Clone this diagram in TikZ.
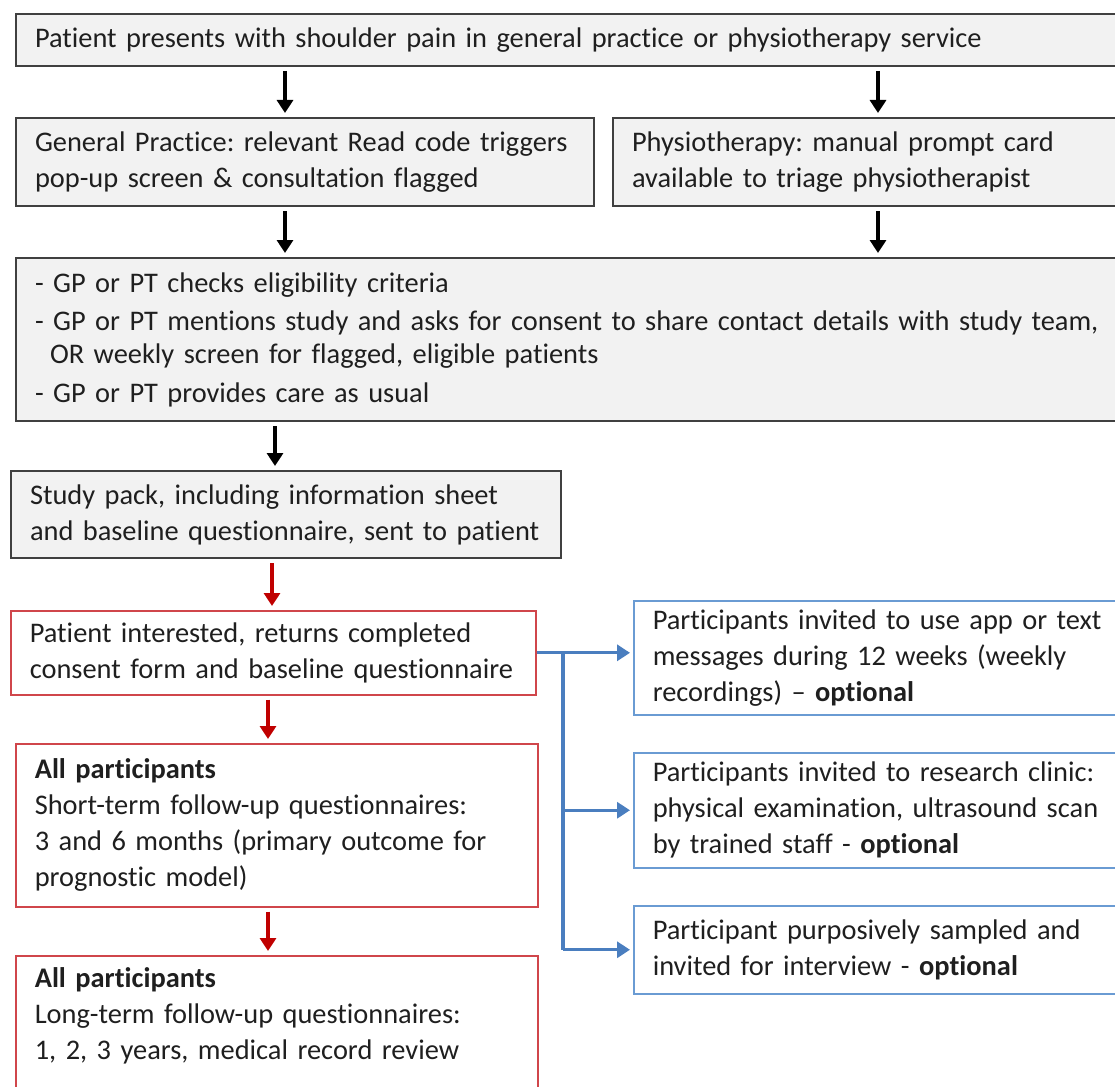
\documentclass[tikz,border=0pt]{standalone}
\usepackage{fontspec}
\setmainfont{Carlito}[Ligatures=NoCommon]
\usetikzlibrary{arrows.meta,calc}
\frenchspacing
\definecolor{boxgray}{HTML}{F2F2F2}
\definecolor{edgegray}{HTML}{404040}
\definecolor{txtgray}{HTML}{1F1F1F}
\definecolor{boxred}{HTML}{D0464B}
\definecolor{arrred}{HTML}{C00000}
\definecolor{boxblue}{HTML}{6A9BD3}
\definecolor{arrblue}{HTML}{4A7EBF}
\tikzset{
  flowbox/.style={anchor=north west, align=left, inner xsep=19pt, inner ysep=0pt,
    font=\fontsize{28.4}{36}\selectfont, text=txtgray},
  greybox/.style={flowbox, draw=edgegray, fill=boxgray, line width=2pt},
  redbox/.style={flowbox, draw=boxred, fill=white, line width=1.6pt},
  bluebox/.style={flowbox, draw=boxblue, fill=white, line width=1.5pt},
  blackarr/.style={line width=3.2pt, -{Triangle[width=16pt,length=13pt]}, shorten <=4pt, shorten >=4pt},
  redarr/.style={blackarr, arrred},
  bluearr/.style={line width=3.2pt, arrblue, -{Triangle[width=16pt,length=13pt]}, shorten >=3pt}
}
\begin{document}
\begin{tikzpicture}[x=1pt, y=-1pt]
	\useasboundingbox (0,0) rectangle (1115,1086);
	\clip (0,0) rectangle (1115,1086);
	% grey boxes
	\node[greybox, text width=1067pt, minimum height=52pt] (present) at (15,13)
		{Patient presents with shoulder pain in general practice or physiotherapy service};
	\node[greybox, text width=540pt, minimum height=88pt] (gp) at (15,117)
		{General Practice: relevant Read code triggers\\pop-up screen \& consultation flagged};
	\node[greybox, text width=470pt, minimum height=88pt] (pt) at (612,117)
		{Physiotherapy: manual prompt card\\available to triage physiotherapist};
	\node[greybox, text width=1067pt, minimum height=163pt] (checks) at (15,257)
		{- GP or PT checks eligibility criteria\\[2pt]
		 - GP or PT mentions study and asks for consent to share contact details with study team,\\[-3pt]
		 \hspace*{15pt}OR weekly screen for flagged, eligible patients\\[3pt]
		 - GP or PT provides care as usual};
	\node[greybox, text width=512pt, minimum height=87pt] (pack) at (10,470)
		{Study pack, including information sheet\\and baseline questionnaire, sent to patient};
	% red boxes
	\node[redbox, text width=487pt, minimum height=84pt] (interest) at (10,610)
		{Patient interested, returns completed\\consent form and baseline questionnaire};
	\node[redbox, text width=484pt, minimum height=163pt] (short) at (15,743)
		{\textbf{All participants}\\Short-term follow-up questionnaires:\\3 and 6 months (primary outcome for\\prognostic model)};
	\node[redbox, text width=484pt, inner ysep=12pt] (long) at (15,955)
		{\textbf{All participants}\\Long-term follow-up questionnaires:\\1, 2, 3 years, medical record review\\ \mbox{}};
	% optional parts
	\node[bluebox, text width=449pt, minimum height=114pt] (app) at (633,600)
		{Participants invited to use app or text\\messages during 12 weeks (weekly\\recordings) -- \textbf{optional}};
	\node[bluebox, text width=449pt, minimum height=115pt] (clinic) at (633,752)
		{Participants invited to research clinic:\\physical examination, ultrasound scan\\by trained staff - \textbf{optional}};
	\node[bluebox, text width=449pt, minimum height=88pt] (interview) at (633,905)
		{Participant purposively sampled and\\invited for interview - \textbf{optional}};
	% arrows
	\coordinate (lx) at (285,0);
	\coordinate (rx) at (878,0);
	\coordinate (mx) at (275,0);
	\coordinate (bx) at (563,0);
	\draw[blackarr] (present.south -| lx) -- (gp.north -| lx);
	\draw[blackarr] (present.south -| rx) -- (pt.north -| rx);
	\draw[blackarr] (gp.south -| lx) -- (checks.north -| lx);
	\draw[blackarr] (pt.south -| rx) -- (checks.north -| rx);
	\draw[blackarr] (checks.south -| mx) -- (pack.north -| mx);
	\draw[redarr] (pack.south -| 272,0) -- (interest.north -| 272,0);
	\draw[redarr] (interest.south -| 268,0) -- (short.north -| 268,0);
	\draw[redarr] (short.south -| 268,0) -- (long.north -| 268,0);
	\draw[bluearr] (interest.east) -- (app.west |- interest.east);
	\draw[line width=3.2pt, arrblue] (interest.east -| bx) -- (bx |- interview.west);
	\draw[bluearr] (bx |- clinic.west) -- (clinic.west);
	\draw[bluearr] (bx |- interview.west) -- (interview.west);
\end{tikzpicture}
\end{document}
